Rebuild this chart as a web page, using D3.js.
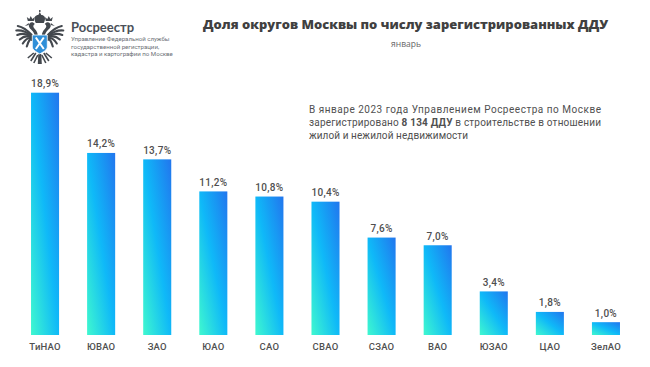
<!DOCTYPE html>
<html><head><meta charset="utf-8">
<script src="https://cdnjs.cloudflare.com/ajax/libs/d3/7.8.5/d3.min.js"></script>
<style>html,body{margin:0;padding:0;background:#fff}svg{display:block}</style></head>
<body><div id="c"></div>
<script>
const categories=["ТиНАО","ЮВАО","ЗАО","ЮАО","САО","СВАО","СЗАО","ВАО","ЮЗАО","ЦАО","ЗелАО"];
const values=[18.9,14.2,13.7,11.2,10.8,10.4,7.6,7.0,3.4,1.8,1.0];
const labels=["18,9%","14,2%","13,7%","11,2%","10,8%","10,4%","7,6%","7,0%","3,4%","1,8%","1,0%"];
const titleText="Доля округов Москвы по числу зарегистрированных ДДУ";
const subtitleText="январь";
const noteLines=[
 [["В январе 2023 года Управлением Росреестра по Москве",false]],
 [["зарегистрировано ",false],["8 134 ДДУ",true],[" в строительстве в отношении",false]],
 [["жилой и нежилой недвижимости",false]]];
const orgLines=["Управление Федеральной службы","государственной регистрации,","кадастра и картографии по Москве"];

const W=650,H=367;
const svg=d3.select("#c").append("svg").attr("width",W).attr("height",H);
svg.append("rect").attr("width",W).attr("height",H).attr("fill","#fff");
const defs=svg.append("defs");
const g=defs.append("linearGradient").attr("id","bar").attr("x1",0).attr("y1",1).attr("x2",1).attr("y2",0);
g.append("stop").attr("offset","0").attr("stop-color","#3ff8cf");
g.append("stop").attr("offset","0.5").attr("stop-color","#0fb9f8");
g.append("stop").attr("offset","1").attr("stop-color","#2276ee");

const x=d3.scaleBand().domain(categories).range([17,634]).paddingInner(0.5).paddingOuter(0.25);
const y=d3.scaleLinear().domain([0,18.9]).range([335,92.7]);
const font="Roboto, sans-serif";
svg.selectAll("rect.b").data(values).join("rect").attr("class","b")
 .attr("x",(d,i)=>x(categories[i])).attr("width",x.bandwidth())
 .attr("y",d=>y(d)).attr("height",d=>y(0)-y(d)).attr("fill","url(#bar)");
svg.selectAll("text.v").data(labels).join("text").attr("class","v")
 .attr("x",(d,i)=>x(categories[i])+x.bandwidth()/2).attr("y",(d,i)=>y(values[i])-5.5)
 .attr("text-anchor","middle").attr("font-family",font).attr("font-size",10).attr("font-weight",500)
 .attr("letter-spacing",0.3).attr("fill","#4f4f4f").text(d=>d);
const ax=svg.append("g").attr("transform","translate(0,335)").call(d3.axisBottom(x).tickSize(0).tickPadding(8));
ax.select(".domain").remove();
ax.selectAll("text").attr("font-family",font).attr("font-size",9.5).attr("font-weight",500).attr("letter-spacing",0.2).attr("fill","#505050");

svg.append("text").attr("x",405.5).attr("y",28.5).attr("text-anchor","middle")
 .attr("font-family","'Open Sans', sans-serif").attr("font-size",13).attr("font-weight",800).attr("fill","#404040")
 .attr("textLength",405).attr("lengthAdjust","spacingAndGlyphs").text(titleText);
svg.append("text").attr("x",406).attr("y",47).attr("text-anchor","middle")
 .attr("font-family","'Open Sans', sans-serif").attr("font-size",8.5).attr("fill","#666").text(subtitleText);

const note=svg.append("g").attr("font-family",font).attr("font-size",10).attr("fill","#505050");
noteLines.forEach((ln,i)=>{
 const t=note.append("text").attr("x",309).attr("y",113+i*13.2).attr("textLength",i<2?292:159).attr("lengthAdjust","spacing");
 ln.forEach(s=>t.append("tspan").attr("font-weight",s[1]?700:400).text(s[0]));
});

// logo: an emblem drawn with mirrored halves
const logo=svg.append("g").attr("transform","translate(39.8,40)");
const dark="#43484e";
[1,-1].forEach(s=>{
 const h=logo.append("g").attr("transform",`scale(${s},1)`);
 [[-22,-14],[-23.5,-9.5],[-22.5,-5],[-20,-0.5],[-17,3.5],[-13,6.5]].forEach((p,i)=>
  h.append("path").attr("d",`M-8,${-5+i} Q${(p[0]-8)/2},${(p[1]-5)/2-3} ${p[0]},${p[1]}`)
   .attr("fill","none").attr("stroke",dark).attr("stroke-width",2.1).attr("stroke-linecap","round"));
 h.append("path").attr("d","M-5,-4 C-6,-10 -10,-10 -11,-14 C-11,-18 -7,-19 -5,-16 C-7,-15 -7,-13 -5,-11 C-3,-9 -2,-7 -2,-4 Z").attr("fill",dark);
 h.append("path").attr("d","M-11,-15 L-15,-14 L-11,-17 Z").attr("fill",dark);
 h.append("path").attr("d","M-12,-19 L-13,-23 L-10.5,-21 L-9,-24 L-7.5,-21 L-5,-23 L-6,-19 Z").attr("fill",dark);
 h.append("path").attr("d","M-6,13 L-12,18").attr("stroke",dark).attr("stroke-width",1.6);
 h.append("path").attr("d","M-2,15 L-6,23 M-4,13 L-9,21").attr("stroke",dark).attr("stroke-width",1.6);
});
logo.append("path").attr("d","M-1.5,14 L-2,24 L2,24 L1.5,14 Z").attr("fill",dark);
logo.append("path").attr("d","M-4,-17 C-7,-23 -4,-25 -1.5,-25 L0,-28 L1.5,-25 C4,-25 7,-23 4,-17 Z").attr("fill",dark);
logo.append("path").attr("d","M0,-28 V-30").attr("stroke",dark).attr("stroke-width",1.4);
logo.append("path").attr("d","M-7.5,-5 H7.5 V7 C7.5,10 3,12 0,14 C-3,12 -7.5,10 -7.5,7 Z").attr("fill","#2f8fd8").attr("stroke","#fff").attr("stroke-width",0.8);
logo.append("path").attr("d","M-4,-2.5 L4,9 M4,-2.5 L-4,9").attr("stroke","#fff").attr("stroke-width",2);

svg.append("text").attr("x",71).attr("y",32).attr("font-family","Lato, sans-serif").attr("font-size",13).attr("font-weight",700).attr("fill","#4a5058").text("Росреестр");
orgLines.forEach((s,i)=>svg.append("text").attr("x",71).attr("y",41+i*7.6).attr("font-family",font).attr("font-size",6.1).attr("fill","#6a6f75").text(s));
</script></body></html>
